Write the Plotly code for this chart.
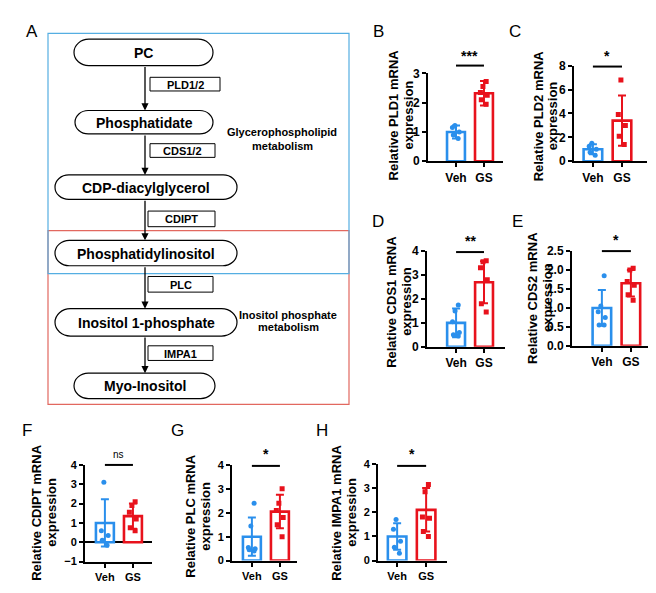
import plotly.graph_objects as go

W, H = 656, 593
BLUE = "#2a8fec"
RED = "#e8121c"
FONT = "Liberation Sans"

# ---------------- data ----------------
groups = ["Veh", "GS"]
panel_letters = ["B", "C", "D", "E", "F", "G", "H"]
genes = ["PLD1", "PLD2", "CDS1", "CDS2", "CDIPT", "PLC", "IMPA1"]
veh_mean = [1.0, 1.0, 1.0, 1.0, 1.0, 1.0, 1.0]
gs_mean = [2.32, 3.4, 2.7, 1.65, 1.35, 2.05, 2.1]
veh_sd = [0.22, 0.42, 0.6, 0.47, 1.22, 0.8, 0.55]
gs_sd = [0.42, 2.1, 0.88, 0.35, 0.65, 0.7, 0.9]
veh_points = [
    [1.22, 1.15, 1.0, 0.9, 0.78],
    [1.5, 1.25, 1.0, 0.75, 0.5],
    [1.75, 1.5, 1.05, 0.6, 0.45, 0.5],
    [1.85, 1.05, 0.9, 0.75, 0.55, 0.55],
    [3.1, 0.6, 0.35, 0.1, -0.15],
    [2.4, 1.45, 0.55, 0.5, 0.4, 0.45],
    [1.7, 1.3, 0.8, 0.55, 0.3],
]
gs_points = [
    [2.72, 2.55, 2.35, 2.25, 1.95, 2.1],
    [6.8, 3.9, 3.0, 2.1, 1.4],
    [3.6, 3.55, 3.3, 2.8, 1.8, 1.45],
    [2.05, 2.0, 1.7, 1.6, 1.35, 1.2],
    [2.1, 1.9, 1.55, 1.2, 0.75, 0.6],
    [3.0, 2.4, 2.1, 1.8, 1.5, 1.0],
    [3.15, 2.85, 1.8, 1.75, 1.2, 1.0],
]
signif = ["***", "*", "**", "*", "ns", "*", "*"]
y_ranges = [[0, 3], [0, 8], [0, 4], [0, 2.5], [-1, 4], [0, 4], [0, 4]]
y_dticks = [1, 2, 1, 0.5, 1, 1, 1]

pathway_nodes = ["PC", "Phosphatidate", "CDP-diacylglycerol", "Phosphatidylinositol",
                 "Inositol 1-phosphate", "Myo-Inositol"]
pathway_enzymes = ["PLD1/2", "CDS1/2", "CDIPT", "PLC", "IMPA1"]

# ---------------- layout geometry (pixels) ----------------
geo = [
    (428, 503, 68, 158, [-1.0, 1.68]),
    (574, 647, 60, 158, [-0.65, 1.86]),
    (427, 505, 250, 348, [-1.04, 1.75]),
    (572, 648, 250, 347, [-1.03, 1.59]),
    (85, 152, 469, 568, [-0.71, 1.68]),
    (232, 297, 469, 567, [-0.71, 1.61]),
    (378, 447, 468, 567, [-0.66, 1.72]),
]
sig_pos = [(60, 50), (61, 50), (251, 240), (250, 239), (469, 458), (470, 458), (470, 458)]
title_pos = [(393, 408, 111), (538, 552, 112), (392, 407, 302), (533, 548, 298),
             (37, 52, 518), (191, 206, 522), (337, 352, 518)]
letter_pos = [(378, 25), (515, 25), (378, 220), (517, 220), (27, 434), (177, 434), (322, 434)]
tick_sizes = [12, 12, 12, 12, 11, 11, 11]

fig = go.Figure()
layout = dict(
    width=W, height=H, margin=dict(l=0, r=0, t=0, b=0), autosize=False,
    paper_bgcolor="white", plot_bgcolor="rgba(0,0,0,0)",
    showlegend=False, barmode="overlay", boxmode="overlay",
    font=dict(family=FONT, color="black"),
)
annotations = []
shapes = []


def P(x, y, text, size=11, bold=True, angle=0, **kw):
    d = dict(x=x, y=y, xref="x8", yref="y8", text=text, showarrow=False,
             font=dict(family=FONT, size=size, color="black", weight="bold" if bold else "normal"),
             textangle=angle, xanchor="center", yanchor="middle")
    d.update(kw)
    annotations.append(d)


for i in range(7):
    n = i + 1
    xl, xr, yt, yb, xr_rng = geo[i]
    xa = "x" if n == 1 else f"x{n}"
    ya = "y" if n == 1 else f"y{n}"
    for g, mean, sd, pts, col, sym in [
        ("Veh", veh_mean[i], veh_sd[i], veh_points[i], BLUE, "circle"),
        ("GS", gs_mean[i], gs_sd[i], gs_points[i], RED, "square"),
    ]:
        fig.add_trace(go.Bar(
            x=[g], y=[mean], width=0.64, xaxis=xa, yaxis=ya,
            marker=dict(color="white", line=dict(color=col, width=2.6)),
            error_y=dict(type="data", array=[sd], color=col, thickness=2, width=4),
        ))
        fig.add_trace(go.Box(
            x=[g] * len(pts), y=pts, xaxis=xa, yaxis=ya, boxpoints="all", jitter=0.6,
            pointpos=0, width=0.5, fillcolor="rgba(0,0,0,0)",
            line=dict(color="rgba(0,0,0,0)", width=0), whiskerwidth=0,
            marker=dict(color=col, size=5, symbol=sym, line=dict(width=0)),
        ))
    axkey = "xaxis" if n == 1 else f"xaxis{n}"
    aykey = "yaxis" if n == 1 else f"yaxis{n}"
    layout[axkey] = dict(
        domain=[xl / W, xr / W], anchor=ya, range=xr_rng, type="category",
        categoryorder="array", categoryarray=groups,
        showline=True, linewidth=2, linecolor="black", ticks="outside", ticklen=4,
        tickwidth=2, tickcolor="black", showgrid=False, zeroline=False,
        tickfont=dict(family=FONT, size=tick_sizes[i], color="black", weight="bold"),
        fixedrange=True,
    )
    yax = dict(
        domain=[1 - yb / H, 1 - yt / H], anchor=xa, range=y_ranges[i], dtick=y_dticks[i],
        showline=True, linewidth=2, linecolor="black", ticks="outside", ticklen=4,
        tickwidth=2, tickcolor="black", showgrid=False, zeroline=False,
        tickfont=dict(family=FONT, size=tick_sizes[i], color="black", weight="bold"),
        fixedrange=True,
    )
    if y_dticks[i] < 1:
        yax["tickformat"] = ".1f"
    if y_ranges[i][0] < 0:
        yax["zeroline"] = True
        yax["zerolinecolor"] = "black"
        yax["zerolinewidth"] = 2
    layout[aykey] = yax

    # significance bracket
    ly, ty = sig_pos[i]
    shapes.append(dict(type="line", xref=xa, yref="y8", x0=0, x1=1, y0=ly, y1=ly,
                       line=dict(color="black", width=2)))
    is_ns = signif[i] == "ns"
    annotations.append(dict(x=0.5, y=ty, xref=xa, yref="y8", text=signif[i], showarrow=False,
                            font=dict(family=FONT, size=10 if is_ns else 14, color="black",
                                      weight="normal" if is_ns else "bold"),
                            xanchor="center", yanchor="middle"))
    # y-axis title
    x1, x2, cy = title_pos[i]
    P(x1, cy, f"Relative {genes[i]} mRNA", size=13, angle=-90)
    P(x2, cy, "expression", size=13, angle=-90)
    # panel letter
    lx, lyy = letter_pos[i]
    P(lx, lyy, panel_letters[i], size=17, bold=False)

# overlay pixel axes
layout["xaxis8"] = dict(domain=[0, 1], range=[0, W], anchor="y8", visible=False, fixedrange=True)
layout["yaxis8"] = dict(domain=[0, 1], range=[H, 0], anchor="x8", visible=False, fixedrange=True)
fig.add_trace(go.Scatter(x=[0], y=[0], xaxis="x8", yaxis="y8", mode="markers",
                         marker=dict(opacity=0), hoverinfo="skip"))

# ---------------- panel A ----------------
P(32, 25, "A", size=17, bold=False)
shapes.append(dict(type="rect", xref="x8", yref="y8", x0=48, x1=349, y0=229, y1=407,
                   line=dict(color="#e2685f", width=1.2)))
shapes.append(dict(type="rect", xref="x8", yref="y8", x0=48, x1=349, y0=27, y1=273,
                   line=dict(color="#55aee2", width=1.2)))


def stadium(x0, x1, y0, y1):
    r = (y1 - y0) / 2
    rx = r * 1.1
    cy = (y0 + y1) / 2
    k = 0.552
    return (f"M {x0 + rx},{y0} L {x1 - rx},{y0} "
            f"C {x1 - rx + k * rx},{y0} {x1},{cy - k * r} {x1},{cy} "
            f"C {x1},{cy + k * r} {x1 - rx + k * rx},{y1} {x1 - rx},{y1} "
            f"L {x0 + rx},{y1} "
            f"C {x0 + rx - k * rx},{y1} {x0},{cy + k * r} {x0},{cy} "
            f"C {x0},{cy - k * r} {x0 + rx - k * rx},{y0} {x0 + rx},{y0} Z")


node_boxes = [(74, 213, 33, 60), (75, 213, 106, 130), (55, 237, 172, 197),
              (55, 237, 239, 265), (55, 237, 309, 337), (74, 215, 375, 401)]
for name, (a, b, c, d) in zip(pathway_nodes, node_boxes):
    shapes.append(dict(type="path", xref="x8", yref="y8", path=stadium(a, b, c, d),
                       line=dict(color="black", width=1.2), fillcolor="white"))
    P((a + b) / 2, (c + d) / 2 + 0.5, name, size=14)

enz_boxes = [(150, 220, 72, 86), (150, 215, 140, 154), (148, 215, 209, 225),
             (148, 213, 276, 292), (148, 213, 347, 362)]
for name, (a, b, c, d) in zip(pathway_enzymes, enz_boxes):
    shapes.append(dict(type="rect", xref="x8", yref="y8", x0=a, x1=b, y0=c, y1=d,
                       line=dict(color="black", width=1), fillcolor="white"))
    P((a + b) / 2, (c + d) / 2 + 0.5, name, size=11)

for k in range(5):
    tail = node_boxes[k][3]
    head = node_boxes[k + 1][2]
    annotations.append(dict(x=145, y=head, ax=145, ay=tail, xref="x8", yref="y8",
                            axref="x8", ayref="y8", showarrow=True, arrowhead=2,
                            arrowsize=1.1, arrowwidth=1.3, arrowcolor="black", text=""))

P(282, 128, "Glycerophospholipid", size=11)
P(282, 142, "metabolism", size=11)
P(288, 315, "Inositol phosphate", size=11)
P(288, 328, "metabolism", size=11)

layout["annotations"] = annotations
layout["shapes"] = shapes
fig.update_layout(**layout)
fig.write_html(
    "out.html",
    config={"displayModeBar": False, "staticPlot": True},
    post_script="document.body.style.margin='0';document.body.style.padding='0';"
                "document.body.style.overflow='hidden';",
)
